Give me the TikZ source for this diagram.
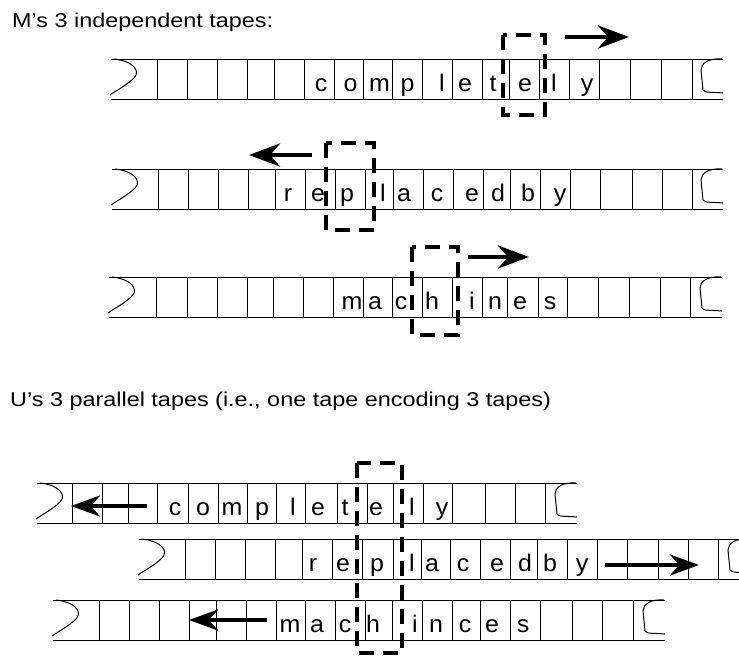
\documentclass[tikz,border=0pt]{standalone}
\usepackage{fontspec}
\setmainfont{Liberation Sans}
\newfontfamily\hdfont{Liberation Sans}[FakeStretch=1.17]
\newfontfamily\tpfont{Liberation Sans}[FakeStretch=1.04]
\usetikzlibrary{arrows.meta}
\tikzset{
  tapeline/.style={line width=1pt},
  cellline/.style={line width=0.9pt},
  headbox/.style={line width=4.4pt, dash pattern=on 15pt off 9pt},
  move/.style={line width=4.6pt, -{Stealth[length=31pt,width=23pt,inset=10pt]}},
  move2/.style={line width=3.8pt, -{Stealth[length=29pt,width=21pt,inset=9pt]}},
  letter/.style={font=\tpfont\fontsize{24}{24}\selectfont, anchor=base, inner sep=0pt},
  title/.style={font=\hdfont\fontsize{20}{24}\selectfont, anchor=base west, inner sep=0pt},
}
% #1 top, #2 left, #3 right, #4 dividers
\newcommand\drawtape[4]{%
  \draw[tapeline] (#2,#1) -- (#3,#1) (#2,#1+40) -- (#3,#1+40);
  \foreach \d in {#4} \draw[cellline] (\d,#1) -- (\d,#1+40);
  \draw[tapeline] (#2+3,#1) .. controls (#2+22,#1+2) and (#2+30,#1+12) .. (#2+23,#1+19)
     .. controls (#2+16,#1+26) and (#2+6,#1+31) .. (#2-1,#1+36);
  \draw[tapeline] (#3-1,#1) .. controls (#3-14,#1-1) and (#3-22,#1+4) .. (#3-22,#1+11)
     -- (#3-20,#1+31) .. controls (#3-19,#1+34) and (#3-10,#1+33) .. (#3,#1+34);
}
% #1 baseline, #2 list letter/x
\newcommand\putletters[2]{%
  \foreach \ch/\xx in {#2} \node[letter] at (\xx,#1) {\ch};
}
\begin{document}
\begin{tikzpicture}[x=1pt,y=-1pt]
\useasboundingbox (0,0) rectangle (739,657);
\clip (0,0) rectangle (739,657);

\node[title] (t1) at (12,27) {M’s 3 independent tapes:};
\node[title] (t2) at (10,406) {U’s 3 parallel tapes (i.e., one tape encoding 3 tapes)};

% ---- M's tapes
\drawtape{59}{111}{723}{157,187,217,247,274,304,334,363,392,422,452,482,509,539,569,599,630,661,692}
\putletters{91.5}{c/321,o/350.5,m/379.5,p/407.5,l/442,e/465,t/493,e/525,l/554,y/587}
\draw[headbox] (503,35) rectangle (545,115);
\coordinate (a1s) at (565,37); \coordinate (a1e) at (629,37);
\draw[move] (a1s) -- (a1e);

\drawtape{169}{112}{723}{158,188,218,248,275,305,335,365,393,423,453,483,510,540,570,600,632,662,692}
\putletters{201.5}{r/288,e/318,p/347,l/383,a/404,c/437,e/472,d/498,b/528,y/560}
\draw[headbox] (326,143) rectangle (374,230);
\coordinate (a2s) at (312,155); \coordinate (a2e) at (249,155);
\draw[move] (a2s) -- (a2e);

\drawtape{277}{109}{722}{156,187,217,247,273,303,333,363,392,422,452,482,507,538,567,598,629,660,690}
\putletters{309.5}{m/352,a/375,c/401,h/432,i/472,n/495,e/520,s/550}
\draw[headbox] (412,247) rectangle (458,335);
\coordinate (a3s) at (468,257); \coordinate (a3e) at (529,257);
\draw[move] (a3s) -- (a3e);

% ---- U's parallel tapes
\drawtape{483}{37}{577}{72,102,128,157,188,218,247,276,305,337,367,393,423,452,485,515,545}
\putletters{515.5}{c/175,o/203,m/232,p/262,l/293,e/318,t/345,e/376,l/412,y/442}
\coordinate (b1s) at (147,506); \coordinate (b1e) at (71,506);
\draw[move2] (b1s) -- (b1e);

\drawtape{539}{139}{750}{185,215,245,275,302,332,362,393,421,450,480,510,537,567,597,627,658,688,718}
\putletters{571.5}{r/313,e/343,p/377,l/412,a/432,c/463,e/497,d/525,b/550,y/582}
\coordinate (b2s) at (605,565); \coordinate (b2e) at (699,565);
\draw[move2] (b2s) -- (b2e);

\drawtape{600}{53}{665}{99,129,159,189,216,246,276,305,335,365,392,422,452,480,510,540,572,602,633}
\putletters{632.5}{m/290,a/317,c/345,h/373,i/415,n/436,c/465,e/492,s/523}
\coordinate (b3s) at (267,620); \coordinate (b3e) at (189,620);
\draw[move2] (b3s) -- (b3e);

\draw[headbox] (357,463) rectangle (402,653);
\end{tikzpicture}
\end{document}
